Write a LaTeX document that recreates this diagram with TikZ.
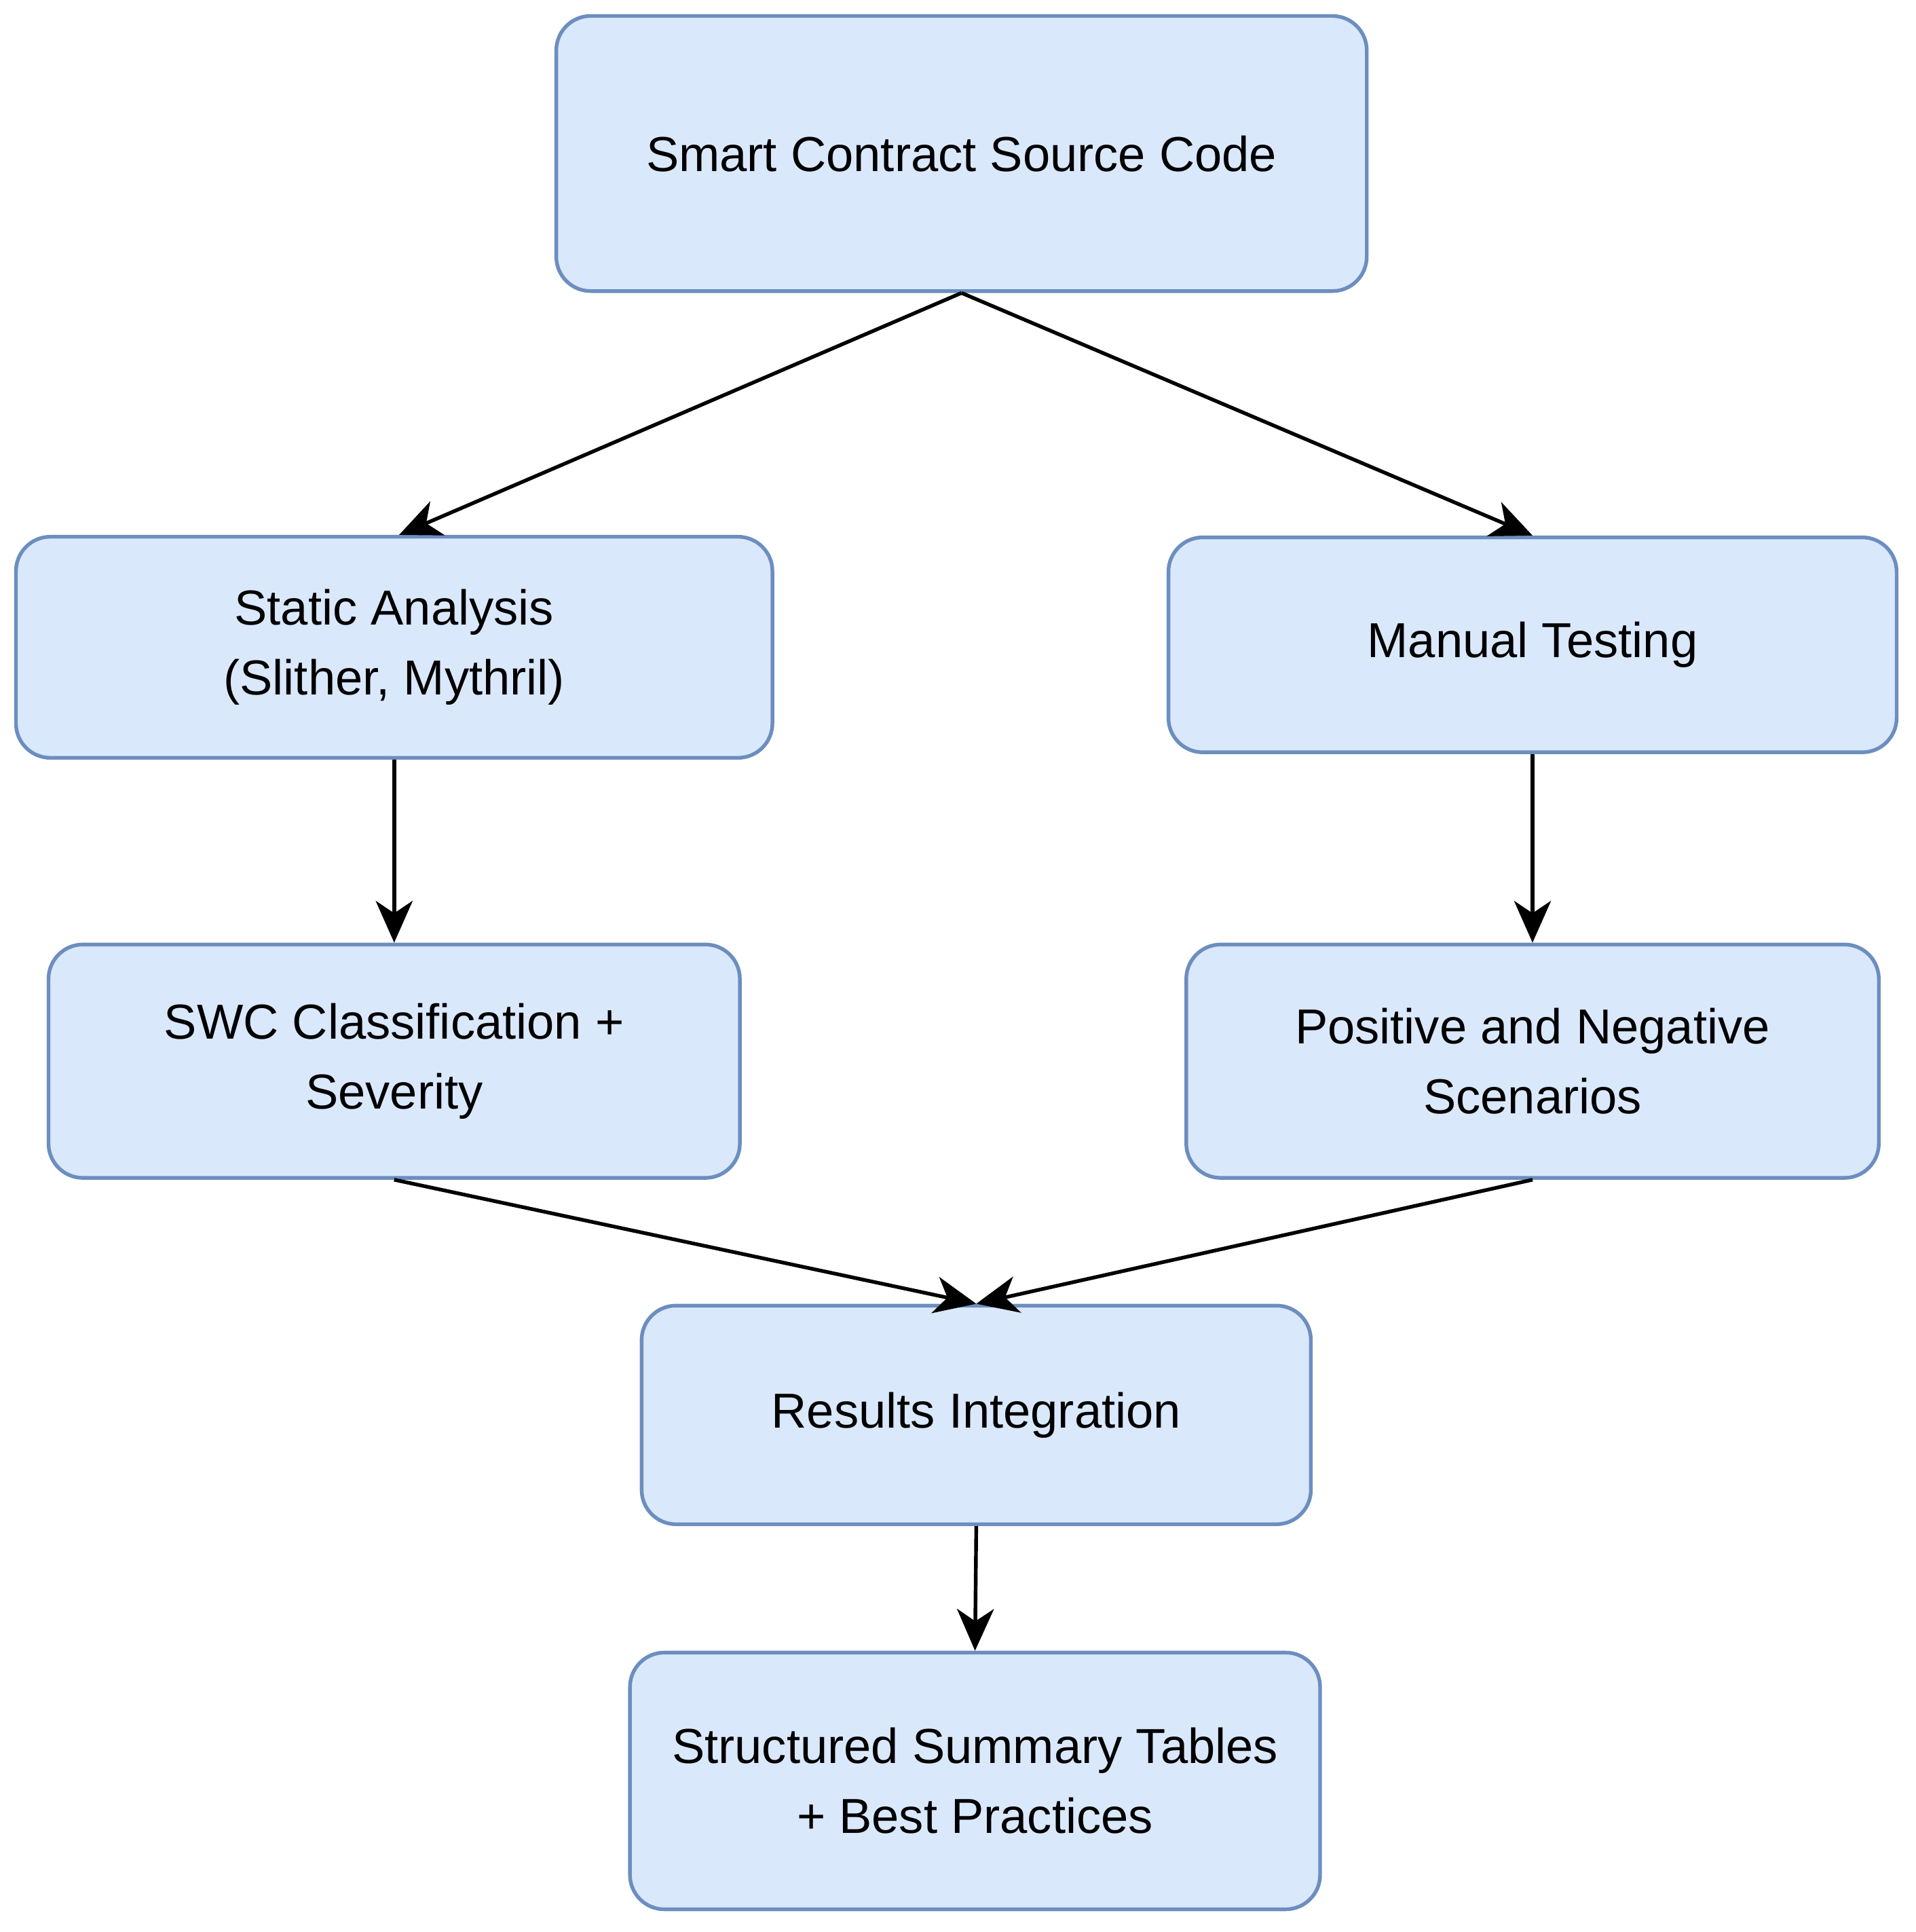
\documentclass[tikz,border=0pt]{standalone}
\usepackage{fontspec}
\setmainfont{Liberation Sans}
\usetikzlibrary{arrows.meta}
\begin{document}
\begin{tikzpicture}[x=1pt,y=-1pt,
 box/.style={draw=blueedge,fill=bluefill,line width=3pt,rounded corners=28pt,align=center,inner sep=0pt,font=\fontsize{40}{57}\selectfont},
 arr/.style={line width=3pt,-{Stealth[length=34pt,width=30pt,inset=10pt]}}]
\definecolor{blueedge}{HTML}{6C8EBF}
\definecolor{bluefill}{HTML}{DAE8FC}
\useasboundingbox (0,0) rectangle (1560,1573);
\node[box,minimum width=660pt,minimum height=224pt] (src) at (783,125) {Smart Contract Source Code};
\node[box,minimum width=616pt,minimum height=180pt] (sa) at (321,527) {Static Analysis\\(Slither, Mythril)};
\node[box,minimum width=593pt,minimum height=175pt] (mt) at (1248,525) {Manual Testing};
\node[box,minimum width=563pt,minimum height=190pt] (swc) at (321,864) {SWC Classification +\\Severity};
\node[box,minimum width=564pt,minimum height=190pt] (pn) at (1248,864) {Positive and Negative\\Scenarios};
\node[box,minimum width=545pt,minimum height=178pt] (ri) at (795,1152) {Results Integration};
\node[box,minimum width=562pt,minimum height=209pt] (st) at (794,1450) {Structured Summary Tables\\+ Best Practices};
\draw[arr] (src.south) -- ([xshift=4pt]sa.north);
\draw[arr] (src.south) -- (mt.north);
\draw[arr] (sa.south) -- (swc.north);
\draw[arr] (mt.south) -- (pn.north);
\draw[arr] (swc.south) -- (ri.north);
\draw[arr] (pn.south) -- (ri.north);
\draw[arr] (ri.south) -- (st.north);
\end{tikzpicture}
\end{document}
